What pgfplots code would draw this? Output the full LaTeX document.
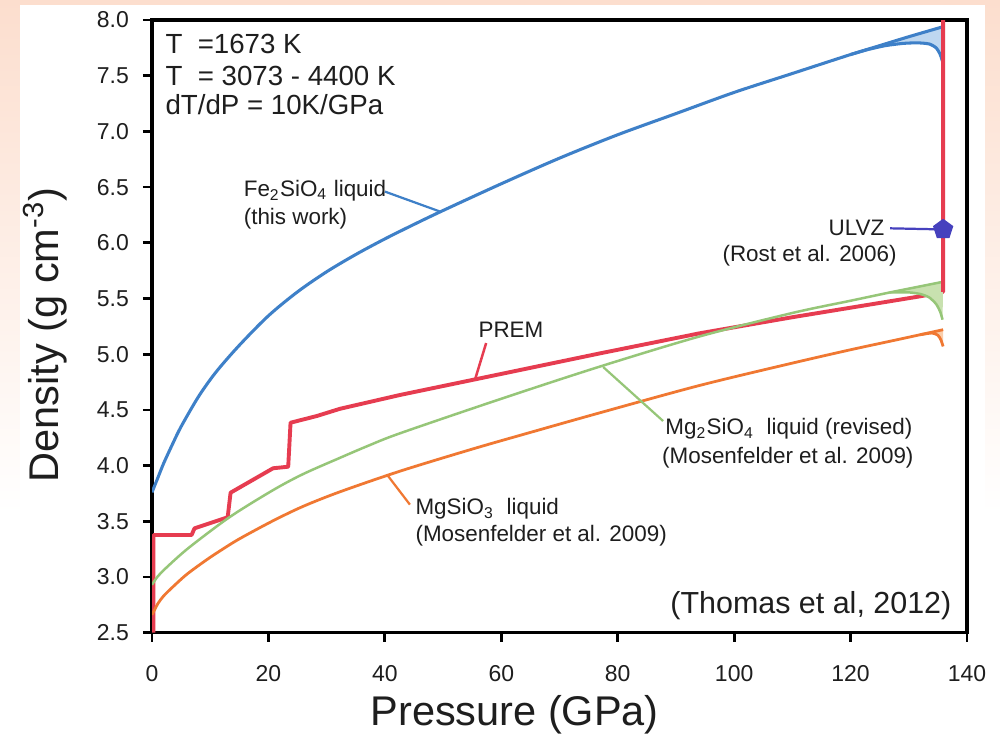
\documentclass[border=0pt]{standalone}
\usepackage{pgfplots}
\pgfplotsset{compat=1.18}
\usepackage{fontspec}
\setmainfont{Liberation Sans}
\definecolor{peach}{RGB}{252,222,206}
\definecolor{cblue}{RGB}{62,128,200}
\definecolor{cred}{RGB}{230,60,80}
\definecolor{cgreen}{RGB}{150,198,120}
\definecolor{corange}{RGB}{240,120,50}
\definecolor{fblue}{RGB}{190,215,240}
\definecolor{fgreen}{RGB}{200,225,175}
\definecolor{forange}{RGB}{250,205,170}
\definecolor{ulvz}{RGB}{70,65,190}
\definecolor{txt}{RGB}{30,30,30}
\begin{document}
\begin{tikzpicture}
\fill[white] (0,0) rectangle (360bp,264.96bp);
\shade[top color=peach, bottom color=white] (0,80bp) rectangle (360bp,264.96bp);
\fill[white] (7.2bp,0) rectangle (354.6bp,263.16bp);
\begin{axis}[
  at={(54.72bp,37.19bp)}, anchor=south west,
  scale only axis, width=293.4bp, height=220.57bp,
  xmin=0, xmax=140, ymin=2.5, ymax=8,
  xtick={0,20,40,60,80,100,120,140},
  ytick={2.5,3.0,3.5,4.0,4.5,5.0,5.5,6.0,6.5,7.0,7.5,8.0},
  xtick pos=left, ytick pos=left, tick align=outside,
  major tick length=3.3bp,
  major tick style={black, line width=1bp},
  axis line style={black, line width=1.3bp},
  /pgf/number format/assume math mode=true,
  ticklabel style={font=\fontsize{8.3}{10}\selectfont, text=txt},
  yticklabel style={xshift=-1.5bp, /pgf/number format/fixed, /pgf/number format/fixed zerofill, /pgf/number format/precision=1},
  xticklabel style={yshift=-5bp},
  xlabel={Pressure (GPa)},
  ylabel={Density (g cm\textsuperscript{-3})},
  every axis x label/.style={at={(axis description cs:0.445,-0.134)}, anchor=center, font=\fontsize{15}{18}\selectfont, text=txt},
  every axis y label/.style={at={(axis description cs:-0.131,0.486)}, rotate=90, anchor=center, font=\fontsize{15}{18}\selectfont, text=txt},
]
% PREM
\addplot[cred, line width=1.4bp, line join=round] coordinates {
(0.25,2.5) (0.25,3.377) (6.8,3.377) (7.3,3.437) (13.0,3.536) (13.5,3.757) (20.8,3.976) (23.4,3.99) (23.8,4.385) (28.3,4.445) (32.3,4.51) (42.6,4.634) (55.5,4.774) (77,5.008) (94.1,5.188) (110,5.332) (132,5.52) (135.9,5.56) (135.9,8.0)};
% fills
\addplot[fill=fblue, draw=none] coordinates {
(120,7.69) (125,7.77) (130,7.85) (135.9,7.94) (135.9,7.61) (135.4,7.69) (134.7,7.75) (133.5,7.785) (131.5,7.795) (129,7.79) (126,7.77) (123,7.735)} --cycle;
\addplot[fill=fgreen, draw=none] coordinates {
(126.8,5.555) (131,5.599) (135.9,5.65) (135.8,5.31) (135.4,5.38) (134.7,5.45) (133.5,5.51) (132,5.54) (130,5.555)} --cycle;
\addplot[fill=forange, draw=none] coordinates {
(132,5.175) (134,5.20) (135.9,5.22) (135.9,5.07) (135.5,5.13) (135,5.17) (134,5.19)} --cycle;
% orange MgSiO3
\addplot[corange, line width=1bp, smooth, tension=0.5] coordinates {
(0,2.66) (1,2.76) (2,2.83) (3.66,2.915) (6,3.025) (9.4,3.155) (12,3.245) (15.1,3.345) (20.8,3.505) (26,3.635) (32.3,3.765) (42.6,3.95) (55,4.148) (65,4.298) (77,4.475) (94.1,4.72) (110,4.92) (120,5.04) (128,5.13) (135.9,5.22)};
\addplot[corange, line width=1bp, smooth, tension=0.4] coordinates {
(132,5.175) (134,5.19) (135,5.17) (135.5,5.13) (135.9,5.07)};
% green Mg2SiO4
\addplot[cgreen, line width=0.9bp, smooth, tension=0.5] coordinates {
(0,2.93) (1,3.006) (3,3.11) (6.5,3.27) (13.4,3.54) (20.8,3.78) (26,3.925) (32.3,4.07) (37,4.175) (42.6,4.29) (60,4.60) (77,4.89) (94.1,5.16) (110,5.37) (120,5.48) (126.8,5.555) (131,5.599) (135.9,5.65)};
\addplot[cgreen, line width=0.9bp, smooth, tension=0.4] coordinates {
(126.8,5.555) (130,5.555) (132,5.54) (133.5,5.51) (134.7,5.45) (135.4,5.38) (135.8,5.31)};
% blue Fe2SiO4
\addplot[cblue, line width=1.1bp, smooth, tension=0.5] coordinates {
(0,3.76) (1,3.89) (2,4.02) (3.5,4.19) (5,4.35) (8,4.62) (11,4.84) (15,5.08) (20,5.345) (25,5.56) (30,5.74) (35,5.895) (40,6.035) (45,6.165) (50,6.29) (60,6.53) (70,6.76) (80,6.97) (90,7.16) (100,7.35) (110,7.52) (120,7.69) (125,7.77) (130,7.85) (135.9,7.94)};
\addplot[cblue, line width=1.1bp, smooth, tension=0.4] coordinates {
(120,7.69) (123,7.735) (126,7.77) (129,7.79) (131.5,7.795) (133.5,7.785) (134.7,7.75) (135.4,7.69) (135.9,7.61)};
% red vertical on top
\addplot[cred, line width=1.4bp] coordinates {(135.9,5.56) (135.9,8.0)};
% leaders
\draw[cblue, line width=0.8bp] (axis cs:40.0,6.46) -- (axis cs:49.5,6.28);
\draw[cred, line width=0.9bp] (axis cs:57.4,5.10) -- (axis cs:55.5,4.774);
\draw[cgreen, line width=0.8bp] (axis cs:77.5,4.885) -- (axis cs:87.8,4.40);
\draw[corange, line width=0.8bp] (axis cs:40.5,3.91) -- (axis cs:44.3,3.65);
\draw[ulvz, line width=0.8bp] (axis cs:126.8,6.13) -- (axis cs:135.9,6.12);
% ULVZ marker
\addplot[only marks, mark=pentagon*, mark size=3.6bp, mark options={fill=ulvz, draw=ulvz}] coordinates {(135.9,6.12)};
% texts
\begin{scope}[every node/.style={text=txt, inner sep=0pt}]
\node[anchor=base west, font=\fontsize{10}{12}\selectfont] at (axis cs:2.23,7.701) {T\ \ =1673 K};
\node[anchor=base west, font=\fontsize{10}{12}\selectfont] at (axis cs:2.23,7.416) {T\ \ = 3073 - 4400 K};
\node[anchor=base west, font=\fontsize{10}{12}\selectfont] at (axis cs:2.23,7.155) {dT/dP = 10K/GPa};
\node[anchor=base west, font=\fontsize{8.1}{10}\selectfont] at (axis cs:15.68,6.414) {Fe\textsubscript{2}SiO\textsubscript{4} liquid};
\node[anchor=base west, font=\fontsize{8.1}{10}\selectfont] at (axis cs:15.68,6.16) {(this work)};
\node[anchor=base west, font=\fontsize{8.1}{10}\selectfont] at (axis cs:56.0,5.154) {PREM};
\node[anchor=base west, font=\fontsize{8.1}{10}\selectfont] at (axis cs:88.1,4.275) {Mg\textsubscript{2}SiO\textsubscript{4}\ \ liquid (revised)};
\node[anchor=base west, font=\fontsize{8.1}{10}\selectfont] at (axis cs:87.55,4.02) {(Mosenfelder et al. 2009)};
\node[anchor=base west, font=\fontsize{8.1}{10}\selectfont] at (axis cs:45.18,3.557) {MgSiO\textsubscript{3}\ \ liquid};
\node[anchor=base west, font=\fontsize{8.1}{10}\selectfont] at (axis cs:45.18,3.317) {(Mosenfelder et al. 2009)};
\node[anchor=base east, font=\fontsize{8.1}{10}\selectfont] at (axis cs:125.9,6.07) {ULVZ};
\node[anchor=base east, font=\fontsize{8.1}{10}\selectfont] at (axis cs:128.0,5.83) {(Rost et al. 2006)};
\node[anchor=base east, font=\fontsize{11}{13}\selectfont] at (axis cs:137.4,2.674) {(Thomas et al, 2012)};
\end{scope}
\end{axis}
\pgfresetboundingbox
\useasboundingbox (0,0) rectangle (360bp,264.96bp);
\end{tikzpicture}
\end{document}
